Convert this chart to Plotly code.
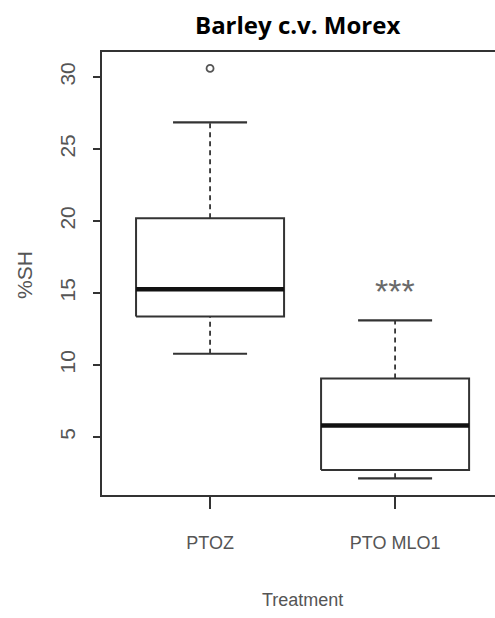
import plotly.graph_objects as go

# ---- data ----
categories = ["PTOZ", "PTO MLO1"]
lower_whisker = [10.78, 2.13]
q1 = [13.36, 2.71]
median = [15.26, 5.79]
q3 = [20.19, 9.06]
upper_whisker = [26.85, 13.10]
outliers = [[30.6], []]
significance = ["", "***"]
y_ticks = [5, 10, 15, 20, 25, 30]

BOX_W = 0.8
CAP_W = 0.4
LINE = "#333333"
TXT = "#555555"

fig = go.Figure()
for i, cat in enumerate(categories):
    xc = i + 1
    xl, xr = xc - BOX_W / 2, xc + BOX_W / 2
    fig.add_trace(go.Scatter(x=[xl, xr, xr, xl, xl], y=[q1[i], q1[i], q3[i], q3[i], q1[i]],
                             mode="lines", line=dict(color=LINE, width=2), hoverinfo="skip"))
    fig.add_trace(go.Scatter(x=[xl, xr], y=[median[i], median[i]], mode="lines",
                             line=dict(color="#111111", width=4.5), hoverinfo="skip"))
    fig.add_trace(go.Scatter(x=[xc, xc], y=[q3[i], upper_whisker[i]], mode="lines",
                             line=dict(color=LINE, width=1.8, dash="5px,4px"), hoverinfo="skip"))
    fig.add_trace(go.Scatter(x=[xc, xc], y=[lower_whisker[i], q1[i]], mode="lines",
                             line=dict(color=LINE, width=1.8, dash="5px,4px"), hoverinfo="skip"))
    for v in (upper_whisker[i], lower_whisker[i]):
        fig.add_trace(go.Scatter(x=[xc - CAP_W / 2, xc + CAP_W / 2], y=[v, v], mode="lines",
                                 line=dict(color=LINE, width=2.2), hoverinfo="skip"))
    if outliers[i]:
        fig.add_trace(go.Scatter(x=[xc] * len(outliers[i]), y=outliers[i], mode="markers",
                                 marker=dict(symbol="circle-open", size=7, color="#555555",
                                             line=dict(width=1.8)), hoverinfo="skip"))
    if significance[i]:
        fig.add_annotation(x=xc, y=upper_whisker[i], yshift=29, yanchor="middle", xanchor="center",
                           text=significance[i], showarrow=False,
                           font=dict(family="Liberation Sans, Arial", size=34, color="#6a6a6a"))

fig.update_layout(
    width=495, height=618,
    margin=dict(l=102, r=0, t=52, b=123),
    paper_bgcolor="white", plot_bgcolor="white",
    showlegend=False,
    xaxis=dict(range=[0.416, 2.54], tickvals=[1, 2], ticktext=categories,
               showline=True, linecolor=LINE, linewidth=1.5, mirror=True,
               ticks="outside", ticklen=12, tickcolor=LINE, tickwidth=1.5,
               showgrid=False, zeroline=False, ticklabelstandoff=19,
               tickfont=dict(family="Liberation Sans, Arial", size=18, color=TXT)),
    yaxis=dict(range=[0.97, 31.74], tickvals=y_ticks,
               showline=True, linecolor=LINE, linewidth=1.5,
               ticks="outside", ticklen=7, tickcolor=LINE, tickwidth=1.5,
               showgrid=False, zeroline=False, tickangle=-90, ticklabelstandoff=10,
               tickfont=dict(family="Liberation Sans, Arial", size=21, color=TXT)),
)
fig.add_annotation(xref="paper", yref="paper", x=(297 - 102) / 393, y=1, yshift=28,
                   xanchor="center", yanchor="middle", text="<b>Barley c.v. Morex</b>",
                   showarrow=False, font=dict(family="Open Sans", size=24, color="black"))
fig.add_annotation(xref="paper", yref="paper", x=0, y=(495 - 275) / 443, xshift=-78,
                   xanchor="center", yanchor="middle", text="%SH", textangle=-90,
                   showarrow=False, font=dict(family="Liberation Sans, Arial", size=21, color=TXT))
fig.add_annotation(xref="paper", yref="paper", x=(302 - 102) / 393, y=0, yshift=-105,
                   xanchor="center", yanchor="middle", text="Treatment",
                   showarrow=False, font=dict(family="Liberation Sans, Arial", size=18, color=TXT))

fig.write_html("out.html", config={"displayModeBar": False},
               post_script="document.body.style.margin='0';")
